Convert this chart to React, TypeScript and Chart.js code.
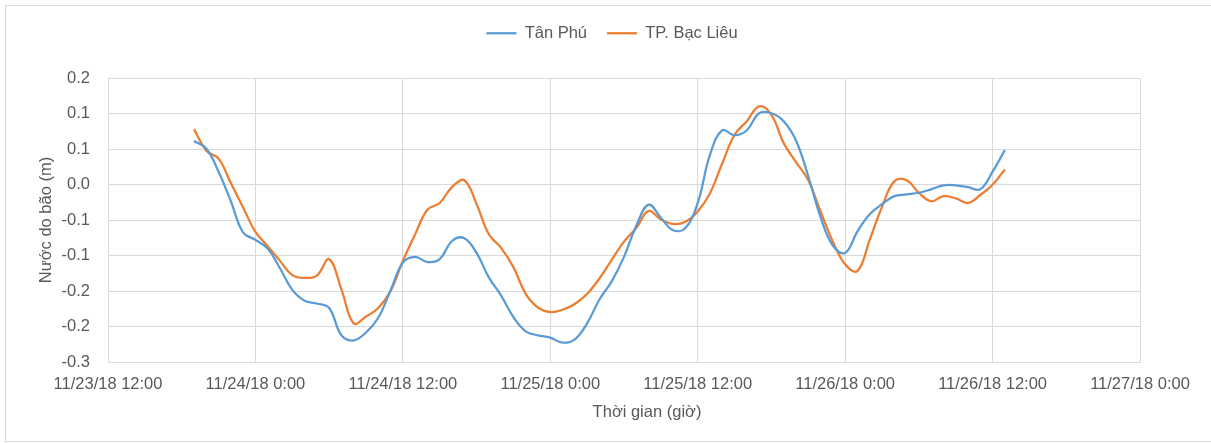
import React, { useEffect, useRef } from "react";
import { Chart, registerables } from "chart.js";

Chart.register(...registerables);

// Hours counted from 11/23/18 12:00; first sample at 11/23/18 19:00, hourly
const startHour = 7;
const xTickLabels = [
  "11/23/18 12:00",
  "11/24/18 0:00",
  "11/24/18 12:00",
  "11/25/18 0:00",
  "11/25/18 12:00",
  "11/26/18 0:00",
  "11/26/18 12:00",
  "11/27/18 0:00",
];
const yTickValues = [-0.3, -0.2375, -0.175, -0.1125, -0.05, 0.0125, 0.075, 0.1375, 0.2];

const tanPhu = [
  0.089, 0.076, 0.035, -0.017, -0.072, -0.085, -0.1, -0.135, -0.173, -0.192,
  -0.197, -0.205, -0.253, -0.262, -0.248, -0.222, -0.174, -0.125, -0.115, -0.124,
  -0.119, -0.087, -0.082, -0.108, -0.151, -0.183, -0.221, -0.246, -0.253, -0.257,
  -0.266, -0.26, -0.232, -0.19, -0.158, -0.115, -0.06, -0.023, -0.046, -0.068,
  -0.064, -0.02, 0.065, 0.108, 0.099, 0.108, 0.138, 0.138, 0.124, 0.09,
  0.027, -0.045, -0.095, -0.108, -0.07, -0.04, -0.022, -0.008, -0.005, -0.002,
  0.004, 0.011, 0.011, 0.008, 0.004, 0.035, 0.073,
];
const bacLieu = [
  0.11, 0.072, 0.058, 0.015, -0.028, -0.071, -0.096, -0.122, -0.147, -0.152,
  -0.148, -0.119, -0.172, -0.232, -0.22, -0.205, -0.175, -0.122, -0.075, -0.032,
  -0.02, 0.008, 0.02, -0.022, -0.075, -0.099, -0.133, -0.18, -0.204, -0.212,
  -0.208, -0.198, -0.18, -0.153, -0.12, -0.088, -0.064, -0.034, -0.049, -0.057,
  -0.053, -0.035, -0.003, 0.05, 0.1, 0.124, 0.15, 0.135, 0.085, 0.052,
  0.02, -0.035, -0.088, -0.128, -0.14, -0.085, -0.027, 0.018, 0.02, -0.002,
  -0.017, -0.008, -0.012, -0.02, -0.006, 0.012, 0.039,
];

const FONT = "'Liberation Sans', Arial, sans-serif";
const FS = 16.5;
const TEXT = "#595959";
const GRID = "#d9d9d9";

function fmt1(v: number): string {
  const r = Math.round(Math.abs(v) * 10 + 1e-9) / 10;
  return (v < 0 && r !== 0 ? "-" : "") + r.toFixed(1);
}

const tweakPlugin = {
  id: "tweaks",
  beforeLayout(chart: any) {
    const lg = chart.legend;
    if (lg && !lg._patched) {
      const orig = lg.fit.bind(lg);
      lg.fit = function () {
        orig();
        this.height = 73;
      };
      lg._patched = true;
    }
    const sx = chart.scales.x;
    if (sx && !sx._patched) {
      const origT = sx.drawTitle.bind(sx);
      sx.drawTitle = function () {
        const ctx = chart.ctx;
        ctx.save();
        ctx.translate(23, 0);
        origT();
        ctx.restore();
      };
      sx._patched = true;
    }
  },
  afterLayout(chart: any) {
    const lg = chart.legend;
    if (lg) {
      lg.left += 42;
      lg.right += 42;
    }
  },
};

export default function App() {
  const ref = useRef<HTMLCanvasElement | null>(null);
  useEffect(() => {
    if (!ref.current) return;
    const toPts = (arr: number[]) => arr.map((y, i) => ({ x: startHour + i, y }));
    const chart = new Chart(ref.current, {
      type: "line",
      data: {
        datasets: [
          {
            label: "Tân Phú",
            data: toPts(tanPhu),
            borderColor: "#5B9BD5",
            backgroundColor: "#5B9BD5",
            borderWidth: 2.25,
            pointRadius: 0,
            tension: 0.4,
            fill: false,
          },
          {
            label: "TP. Bạc Liêu",
            data: toPts(bacLieu),
            borderColor: "#ED7D31",
            backgroundColor: "#ED7D31",
            borderWidth: 2.25,
            pointRadius: 0,
            tension: 0.4,
            fill: false,
          },
        ],
      },
      options: {
        responsive: false,
        animation: false,
        devicePixelRatio: 1,
        layout: { padding: { top: 5, left: 0, right: 71, bottom: 0 } },
        plugins: {
          tooltip: { enabled: false },
          legend: {
            position: "top",
            labels: {
              usePointStyle: true,
              pointStyle: "line",
              pointStyleWidth: 30,
              padding: 20,
              color: TEXT,
              font: { family: FONT, size: FS },
            },
          },
        },
        scales: {
          x: {
            type: "linear",
            min: 0,
            max: 84,
            afterFit: (s: any) => {
              s.height = 81;
            },
            afterBuildTicks: (s: any) => {
              s.ticks = xTickLabels.map((_, i) => ({ value: i * 12 }));
            },
            ticks: {
              padding: 13,
              maxRotation: 0,
              autoSkip: false,
              color: TEXT,
              font: { family: FONT, size: FS },
              callback: (v: any) => xTickLabels[Math.round(Number(v) / 12)] ?? "",
            },
            grid: { color: GRID, drawTicks: false },
            border: { color: GRID },
            title: {
              display: true,
              text: "Thời gian (giờ)",
              color: TEXT,
              font: { family: FONT, size: FS },
              padding: { top: 0, bottom: 21 },
            },
          },
          y: {
            type: "linear",
            min: -0.3,
            max: 0.2,
            afterFit: (s: any) => {
              s.width = 108;
            },
            afterBuildTicks: (s: any) => {
              s.ticks = yTickValues.map((v) => ({ value: v }));
            },
            ticks: {
              padding: 18,
              color: TEXT,
              font: { family: FONT, size: FS },
              callback: (v: any) => fmt1(Number(v)),
            },
            grid: { color: GRID, drawTicks: false },
            border: { display: false },
            title: {
              display: true,
              text: "Nước do bão (m)",
              color: TEXT,
              font: { family: FONT, size: FS },
              padding: { top: 37, bottom: 0 },
            },
          },
        },
      },
      plugins: [tweakPlugin],
    });
    return () => chart.destroy();
  }, []);

  return (
    <div style={{ position: "absolute", left: 0, top: 0, width: 1211, height: 443, background: "#fff" }}>
      <div
        style={{
          position: "absolute",
          left: 5,
          top: 5,
          width: 1220,
          height: 437,
          border: "1px solid #d9d9d9",
          boxSizing: "border-box",
        }}
      />
      <canvas ref={ref} width={1211} height={443} style={{ position: "absolute", left: 0, top: 0, width: 1211, height: 443 }} />
    </div>
  );
}
